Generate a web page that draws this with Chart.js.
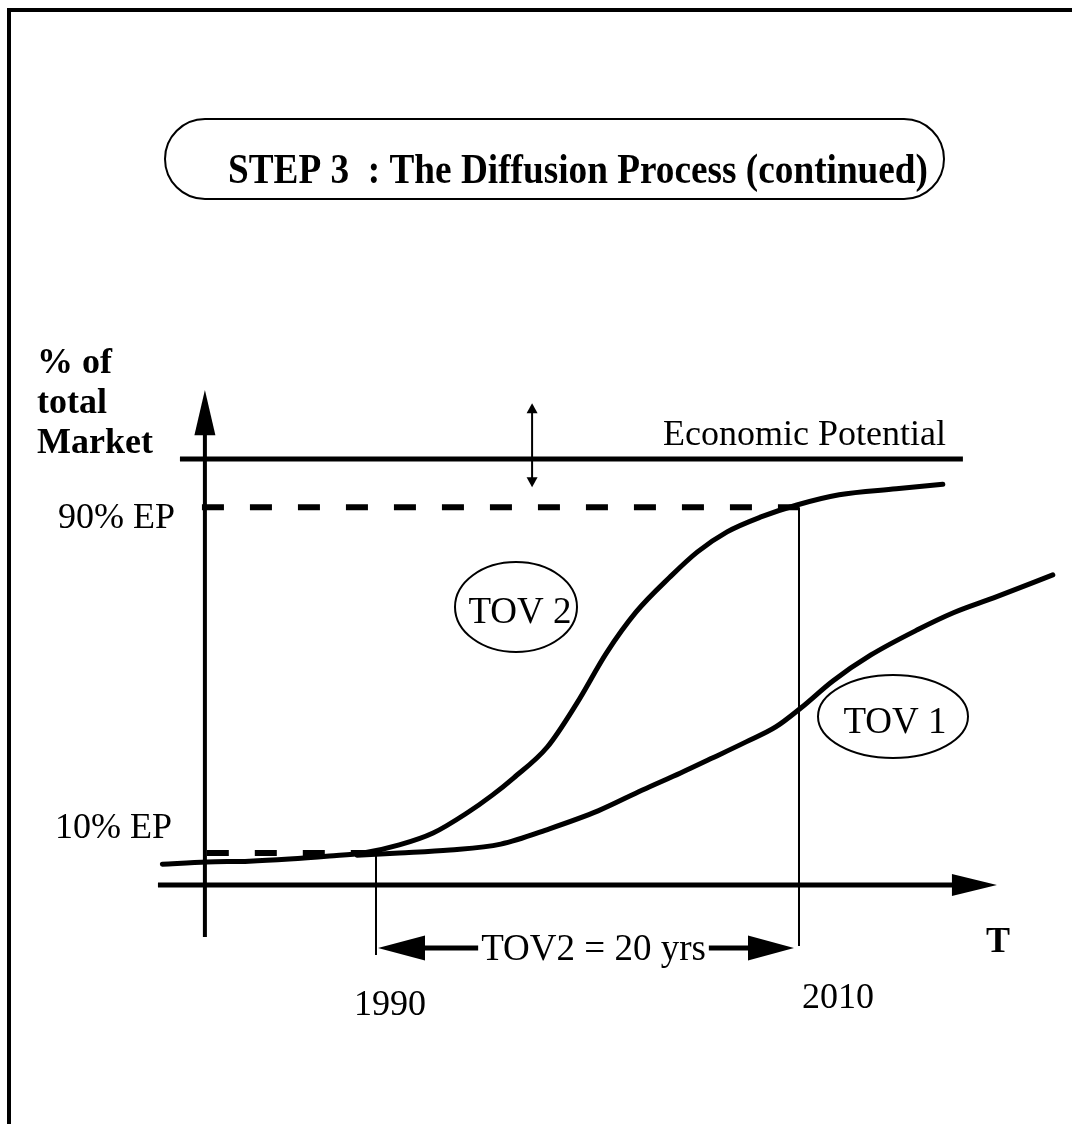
<!DOCTYPE html>
<html><head><meta charset="utf-8">
<script src="https://cdn.jsdelivr.net/npm/chart.js@4"></script>
<style>html,body{margin:0;padding:0;background:#fff;} #wrap{width:1072px;height:1124px;position:relative;}</style>
</head><body><div id="wrap"><canvas id="c"></canvas></div>
<script>
// ---- data (x = year, y = share of market, EP = 100) ----
const tov2Years = [1979.9,1982.0,1984.0,1985.9,1987.8,1989.4,1991.1,1992.7,1994.3,1995.5,1996.5,1998.1,1999.5,2000.9,2002.3,2003.9,2005.2,2006.6,2008.2,2009.9,2011.9,2014.6,2016.8];
const tov2Share = [4.9,5.4,5.6,6.1,6.8,7.5,9.4,12.2,16.9,21.1,25.1,32.4,42.7,54.5,64.1,72.3,78.2,82.9,86.4,89.2,91.6,93.0,94.1];
const tov1Years = [1989.1,1991.1,1993.5,1995.9,1998.2,2000.5,2002.6,2004.4,2005.9,2007.5,2008.9,2010.1,2011.6,2013.4,2015.6,2017.3,2019.2,2022.0];
const tov1Share = [7.0,7.5,8.2,9.6,13.2,17.4,22.3,26.3,29.8,33.6,37.1,41.6,47.9,54.0,59.9,63.9,67.4,72.8];
const economicPotential = 100;
const epLevels = [88.7, 7.5];            // drawn heights of the 90% EP and 10% EP guides
const levelLabels = ['90% EP', '10% EP'];
const markerYears = [1990, 2010];
const yearLabels = ['1990', '2010'];
const curveLabels = ['TOV 2', 'TOV 1'];
const spanLabel = 'TOV2 = 20 yrs';
const yTitleLines = ['% of', 'total', 'Market'];
const xTitle = 'T';
const epLabel = 'Economic Potential';
const chartTitle = 'STEP 3  : The Diffusion Process (continued)';

// ---- geometry of the sketch in data units ----
const axisYear = 1981.91, axisStartYear = 1979.69, axisTipYear = 2019.36, axisHeadYear = 2017.23;
const yAxisLow = -12.2, yAxisTip = 116.2, yAxisHead = 105.6;
const epStart = 1980.73, epEnd = 2017.75;
const rangeArrowYear = 1997.38, rangeArrowTop = 113.1, rangeArrowBottom = 93.4;
const spanLevel = -14.8;

const zip = (xs, ys) => xs.map((x, i) => ({x, y: ys[i]}));
const seg = (a, b) => [a, b];
const lineDs = (data, w, dash) => ({data, borderColor:'#000', borderWidth:w, borderDash:dash||[], pointRadius:0, tension:0, fill:false, borderCapStyle:'butt'});

const SERIF = '"Liberation Serif", "Times New Roman", serif';

const decor = {
  id: 'decor',
  afterDatasetsDraw(chart) {
    const ctx = chart.ctx, X = v => chart.scales.x.getPixelForValue(v), Y = v => chart.scales.y.getPixelForValue(v);
    ctx.save();
    ctx.fillStyle = '#000'; ctx.strokeStyle = '#000';
    // frame
    ctx.fillRect(7, 8, 1072 - 7, 4);
    ctx.fillRect(7, 8, 4, 1124 - 8);
    // title box
    const bx = 165, by = 119, bw = 779, bh = 80, r = 40;
    ctx.lineWidth = 2;
    ctx.beginPath();
    ctx.moveTo(bx + r, by); ctx.lineTo(bx + bw - r, by);
    ctx.arcTo(bx + bw, by, bx + bw, by + r, r); ctx.lineTo(bx + bw, by + bh - r);
    ctx.arcTo(bx + bw, by + bh, bx + bw - r, by + bh, r); ctx.lineTo(bx + r, by + bh);
    ctx.arcTo(bx, by + bh, bx, by + bh - r, r); ctx.lineTo(bx, by + r);
    ctx.arcTo(bx, by, bx + r, by, r); ctx.closePath(); ctx.stroke();
    ctx.font = 'bold 42px ' + SERIF; ctx.textBaseline = 'alphabetic'; ctx.textAlign = 'left';
    const tw = ctx.measureText(chartTitle).width, target = 700;
    ctx.save(); ctx.translate(228, 183); ctx.scale(target / tw, 1); ctx.fillText(chartTitle, 0, 0); ctx.restore();

    const tri = (a, b, c) => { ctx.beginPath(); ctx.moveTo(a[0], a[1]); ctx.lineTo(b[0], b[1]); ctx.lineTo(c[0], c[1]); ctx.closePath(); ctx.fill(); };
    // y axis arrow head
    const ax = X(axisYear);
    tri([ax, Y(yAxisTip)], [ax - 10.5, Y(yAxisHead)], [ax + 10.5, Y(yAxisHead)]);
    // x axis arrow head
    const ay = Y(0);
    tri([X(axisTipYear), ay], [X(axisHeadYear), ay - 11], [X(axisHeadYear), ay + 11]);
    // double arrow at EP
    const rx = X(rangeArrowYear), rt = Y(rangeArrowTop), rb = Y(rangeArrowBottom);
    ctx.lineWidth = 2; ctx.beginPath(); ctx.moveTo(rx, rt + 6); ctx.lineTo(rx, rb - 6); ctx.stroke();
    tri([rx, rt], [rx - 5.5, rt + 10], [rx + 5.5, rt + 10]);
    tri([rx, rb], [rx - 5.5, rb - 10], [rx + 5.5, rb - 10]);
    // span arrow
    ctx.font = '37px ' + SERIF; ctx.textAlign = 'center';
    const sy = Y(spanLevel), sl = X(markerYears[0]) + 2, sr = X(markerYears[1]) - 5;
    const scx = (X(markerYears[0]) + X(markerYears[1])) / 2 + 6;
    const sw = ctx.measureText(spanLabel).width;
    ctx.fillText(spanLabel, scx, sy + 12);
    ctx.lineWidth = 5;
    ctx.beginPath(); ctx.moveTo(sl + 40, sy); ctx.lineTo(scx - sw / 2 - 3, sy); ctx.stroke();
    ctx.beginPath(); ctx.moveTo(scx + sw / 2 + 3, sy); ctx.lineTo(sr - 40, sy); ctx.stroke();
    tri([sl, sy], [sl + 47, sy - 12.5], [sl + 47, sy + 12.5]);
    tri([sr, sy], [sr - 46, sy - 12.5], [sr - 46, sy + 12.5]);
    // year labels
    ctx.font = '36px ' + SERIF;
    ctx.fillText(yearLabels[0], X(markerYears[0]) + 14, 1015);
    ctx.fillText(yearLabels[1], X(markerYears[1]) + 39, 1008);
    // level labels
    ctx.textAlign = 'left';
    ctx.fillText(levelLabels[0], 58, Y(epLevels[0]) + 21);
    ctx.fillText(levelLabels[1], 55, Y(epLevels[1]) - 15);
    ctx.fillText(epLabel, 663, Y(economicPotential) - 14);
    // axis titles
    ctx.font = 'bold 36px ' + SERIF;
    yTitleLines.forEach((t, i) => ctx.fillText(t, 37, 373 + 40 * i));
    ctx.fillText(xTitle, 986, 952);
    // ellipses with curve labels
    ctx.font = '37px ' + SERIF; ctx.textAlign = 'center'; ctx.lineWidth = 2;
    ctx.beginPath(); ctx.ellipse(516, 607, 61, 45, 0, 0, Math.PI * 2); ctx.stroke();
    ctx.fillText(curveLabels[0], 520, 623);
    ctx.beginPath(); ctx.ellipse(893, 716.5, 75, 41.5, 0, 0, Math.PI * 2); ctx.stroke();
    ctx.fillText(curveLabels[1], 895, 733);
    ctx.restore();
  }
};

new Chart(document.getElementById('c'), {
  type: 'line',
  data: {
    datasets: [
      Object.assign(lineDs(zip(tov2Years, tov2Share), 5), {label: curveLabels[0], cubicInterpolationMode: 'monotone', borderCapStyle: 'round', borderJoinStyle: 'round'}),
      Object.assign(lineDs(zip(tov1Years, tov1Share), 5), {label: curveLabels[1], cubicInterpolationMode: 'monotone', borderCapStyle: 'round', borderJoinStyle: 'round'}),
      lineDs(seg({x: epStart, y: economicPotential}, {x: epEnd, y: economicPotential}), 5),
      lineDs(seg({x: 1981.77, y: epLevels[0]}, {x: markerYears[1], y: epLevels[0]}), 6, [22, 26]),
      lineDs(seg({x: 1982.0, y: epLevels[1]}, {x: markerYears[0], y: epLevels[1]}), 6, [22, 26]),
      lineDs(seg({x: markerYears[0], y: epLevels[1]}, {x: markerYears[0], y: -16.4}), 2),
      lineDs(seg({x: markerYears[1], y: epLevels[0]}, {x: markerYears[1], y: -14.3}), 2),
      lineDs(seg({x: axisYear, y: yAxisLow}, {x: axisYear, y: yAxisHead + 1}), 4),
      lineDs(seg({x: axisStartYear, y: 0}, {x: axisHeadYear + 0.3, y: 0}), 5)
    ]
  },
  options: {
    responsive: true, maintainAspectRatio: false, animation: false,
    layout: {padding: 0},
    plugins: {legend: {display: false}, tooltip: {enabled: false}, title: {display: false}},
    scales: {
      x: {type: 'linear', display: false, min: 1972.222, max: 2022.908},
      y: {type: 'linear', display: false, min: -56.1, max: 207.75}
    }
  },
  plugins: [decor]
});
</script>
</body></html>
